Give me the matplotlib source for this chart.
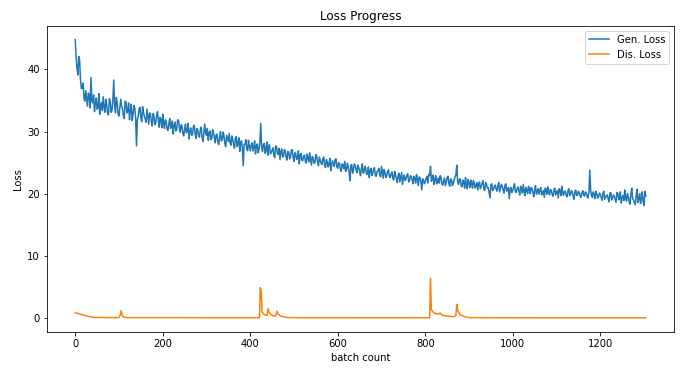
import matplotlib
matplotlib.use("Agg")
import matplotlib.pyplot as plt
import numpy as np

# generator loss: readings at batches 0, 4, 8, ...
gen_loss_a = [
    44.8, 40.2, 42.1, 38.4, 37.0, 35.3, 36.6, 34.1, 35.9, 38.7,
    34.6, 33.2, 35.4, 33.9, 32.8, 34.7, 35.6, 33.1, 34.3, 32.7,
    34.9, 33.4, 38.3, 33.0, 34.6, 32.5, 35.2, 33.7, 32.1, 34.8,
    33.3, 31.9, 34.4, 32.6, 33.8, 27.7, 32.4, 33.9, 31.6, 33.1,
    32.0, 33.6, 31.2, 32.8, 30.9, 32.5, 31.4, 33.2, 30.7, 31.9,
    32.8, 30.5, 31.6, 30.2, 32.1, 30.8, 29.6, 31.5, 30.3, 31.8,
    29.9, 30.9, 29.3, 31.2, 30.1, 28.8, 30.6, 29.5, 31.0, 28.9,
    30.2, 29.1, 30.7, 28.4, 31.2, 29.4, 28.6, 30.1, 28.9, 29.8,
    28.2, 29.6, 27.9, 30.0, 28.7, 29.3, 27.6, 28.9, 29.7, 27.8,
    28.8, 27.3, 29.2, 28.1, 26.8, 28.5, 24.5, 28.0, 27.2, 28.6,
    26.9, 28.2, 27.4, 26.4, 28.0, 27.1, 31.3, 26.8, 28.1, 27.0,
    26.2, 27.9, 26.6, 27.4, 25.8, 27.6, 26.3, 25.5, 27.2, 26.0,
    26.9, 25.4, 26.7, 25.9, 27.1, 25.2, 26.4, 25.7, 24.8, 26.5,
    25.3, 26.2, 24.9, 25.8, 26.6, 24.6, 25.7, 25.0, 26.0, 24.5,
    25.4, 24.7, 25.9, 24.2, 25.1, 24.8, 23.7, 25.3, 24.4, 25.6,
    24.1, 24.9, 23.6, 24.6, 25.2, 23.8, 24.3, 22.1, 24.7, 23.9,
    24.5, 23.4, 24.2, 22.9, 24.8, 23.5, 24.0, 23.2, 22.6, 24.1,
    23.3, 24.2, 22.8, 23.7, 23.0, 24.4, 22.5, 23.4, 22.9, 23.8,
    22.6, 23.5, 22.2, 23.1, 21.8, 23.3, 22.7, 21.5, 23.0, 22.4,
    23.2, 22.0, 22.8, 21.6, 22.5, 23.1, 21.3, 22.6, 20.6, 22.2,
    21.9, 22.8, 23.1, 24.4, 22.4, 21.5, 22.9, 22.1, 21.7, 22.6,
    21.4, 22.5, 21.9, 22.8, 21.2, 22.3, 21.6, 22.7, 24.6, 21.5,
    22.4, 21.1, 21.9, 22.6, 20.8, 21.7, 22.2, 20.9, 21.8, 21.3,
    20.6, 21.9, 21.2, 22.1, 20.5, 21.5, 21.0, 19.3, 21.6, 20.7,
    21.4, 20.4, 21.8, 20.9, 21.2, 20.1, 21.6, 20.6, 19.2, 21.0,
    20.5, 21.6, 20.2, 21.1, 19.8, 20.9, 21.5, 19.7, 20.6, 21.2,
    20.0, 20.8, 19.5, 21.3, 20.3, 19.9, 21.0, 20.1, 19.4, 20.7,
    21.1, 19.8, 20.5, 19.6, 20.9, 20.2, 19.3, 20.6, 21.2, 19.7,
    20.4, 19.5, 20.8, 19.9, 20.3, 19.1, 20.6, 19.8, 20.2, 19.4,
    20.5, 19.6, 20.1, 19.3, 23.8, 19.7, 20.3, 19.2, 20.0, 19.5,
    19.9, 18.9, 20.4, 19.4, 19.8, 18.7, 20.2, 19.3, 19.6, 18.6,
    20.1, 19.2, 18.5, 19.7, 20.6, 18.8, 19.5, 18.3, 20.9, 19.0,
    18.2, 20.7, 19.1, 18.4, 20.3, 18.1, 19.6,
]

# generator loss: readings at batches 2, 6, 10, ...
gen_loss_b = [
    42.0, 39.1, 41.5, 36.9, 37.8, 34.9, 35.3, 36.2, 33.8, 35.0,
    35.9, 34.5, 33.6, 36.1, 34.2, 33.4, 34.0, 35.2, 32.9, 35.3,
    33.1, 35.0, 34.2, 35.5, 32.8, 33.9, 34.1, 32.6, 34.9, 33.0,
    34.6, 33.4, 31.8, 34.2, 32.3, 31.9, 33.7, 32.2, 34.0, 32.4,
    31.5, 32.4, 33.0, 31.6, 32.9, 31.1, 32.6, 31.8, 32.3, 30.6,
    31.4, 31.9, 30.4, 31.3, 30.5, 31.7, 31.0, 30.1, 31.9, 30.6,
    31.1, 29.7, 30.4, 29.8, 31.3, 30.2, 29.4, 30.8, 29.6, 30.5,
    29.3, 30.4, 29.0, 29.9, 29.7, 30.5, 29.8, 28.7, 30.3, 29.1,
    29.5, 28.3, 29.1, 28.5, 29.9, 28.0, 29.4, 28.4, 28.2, 29.3,
    27.9, 28.9, 27.6, 29.0, 28.3, 27.5, 27.9, 28.7, 26.9, 27.6,
    27.8, 26.9, 28.5, 27.7, 26.6, 28.3, 27.5, 27.9, 26.5, 28.3,
    27.5, 26.4, 27.0, 26.1, 27.7, 26.5, 27.3, 26.8, 25.9, 27.1,
    25.9, 26.8, 25.6, 27.0, 25.8, 26.6, 25.5, 26.9, 26.1, 25.4,
    26.1, 25.2, 26.4, 25.1, 25.6, 26.0, 24.9, 26.3, 25.1, 25.9,
    24.9, 25.6, 24.6, 25.5, 24.3, 25.7, 24.6, 24.8, 25.5, 24.3,
    25.0, 23.9, 24.8, 24.0, 23.6, 24.9, 23.5, 24.6, 23.3, 24.8,
    23.8, 24.6, 23.6, 24.1, 23.3, 24.4, 23.1, 24.3, 23.7, 22.9,
    24.0, 22.9, 23.6, 24.1, 22.7, 23.5, 23.9, 22.6, 23.6, 22.8,
    23.2, 22.4, 23.6, 22.5, 22.9, 21.9, 23.4, 22.6, 22.1, 23.0,
    21.9, 22.9, 22.3, 22.8, 21.7, 22.4, 22.7, 21.9, 22.4, 21.6,
    22.5, 21.7, 22.9, 22.0, 23.0, 22.3, 21.6, 22.5, 22.9, 21.5,
    22.1, 21.3, 22.6, 21.6, 22.4, 21.3, 22.2, 23.0, 22.0, 22.3,
    21.3, 22.2, 20.9, 21.4, 22.3, 21.0, 21.6, 22.1, 20.9, 21.8,
    21.5, 20.8, 21.7, 20.7, 21.8, 20.9, 20.2, 21.4, 20.5, 21.2,
    20.7, 21.4, 20.3, 21.5, 20.6, 21.3, 20.4, 21.0, 20.7, 20.2,
    21.1, 20.3, 20.8, 20.4, 21.2, 20.1, 20.4, 21.0, 20.0, 20.7,
    21.0, 20.2, 20.6, 19.9, 20.8, 20.6, 19.8, 20.5, 20.9, 19.9,
    20.3, 20.7, 19.9, 20.6, 19.8, 20.5, 20.8, 19.7, 20.2, 20.4,
    19.8, 20.4, 19.7, 20.5, 19.6, 20.3, 19.7, 20.4, 19.6, 20.1,
    19.8, 20.3, 19.5, 20.2, 20.6, 19.4, 19.9, 20.4, 19.3, 20.1,
    19.4, 20.0, 19.1, 19.7, 19.2, 20.1, 19.0, 19.8, 19.1, 20.2,
    19.0, 20.3, 19.3, 18.9, 19.4, 20.0, 18.7, 19.9, 19.2, 18.6,
    19.8, 18.6, 20.0, 19.2, 18.7, 20.4,
]

# discriminator loss, read at the batches where it changes
dis_batch = [
    0, 10, 20, 30, 40, 50, 100, 103, 105, 107, 110, 120,
    421, 423, 425, 427, 432, 438, 441, 443, 446, 452, 458, 461, 464,
    470, 480, 490, 520,
    810, 812, 814, 820, 830, 834, 838, 850, 865, 870, 872, 874,
    880, 890, 900, 1000, 1304,
]
dis_loss = [
    0.85, 0.65, 0.45, 0.25, 0.12, 0.08, 0.06, 0.5, 1.2, 0.5, 0.15, 0.06,
    0.05, 4.9, 4.4, 1.0, 0.55, 0.4, 1.5, 0.9, 0.6, 0.35, 0.3, 1.1, 0.6,
    0.3, 0.12, 0.06, 0.05,
    0.04, 6.4, 1.3, 0.8, 0.6, 0.8, 0.45, 0.3, 0.2, 0.4, 2.2, 1.2,
    0.5, 0.2, 0.06, 0.04, 0.03,
]

# interleave the two readings into one series, one point every 2 batches
gen_loss = np.empty(len(gen_loss_a) + len(gen_loss_b))
gen_loss[0::2] = gen_loss_a
gen_loss[1::2] = gen_loss_b
gen_batch = np.arange(len(gen_loss)) * 2

fig = plt.figure(figsize=(684 / 72, 368 / 72), dpi=72)
ax = fig.add_axes([46.7 / 684, 1 - 331.7 / 368, (674.3 - 46.7) / 684, (331.7 - 25.7) / 368])

ax.plot(gen_batch, gen_loss, label="Gen. Loss")
ax.plot(dis_batch, dis_loss, label="Dis. Loss")

ax.set_title("Loss Progress")
ax.set_xlabel("batch count")
ax.set_ylabel("Loss")
ax.legend(loc="upper right")

fig.savefig("out.png", dpi=72)
